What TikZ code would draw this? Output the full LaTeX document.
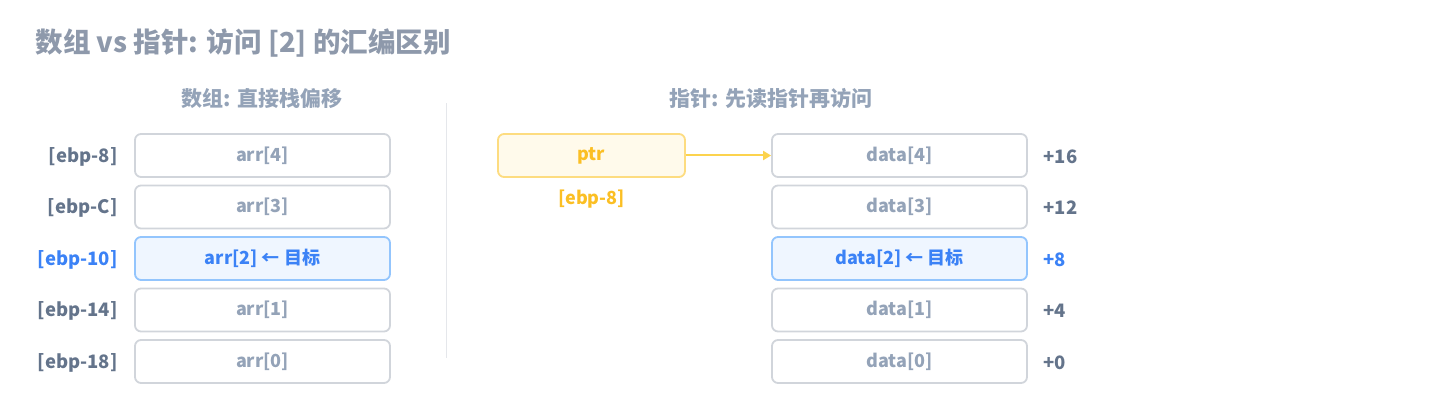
\documentclass[tikz,border=0pt]{standalone}
\usepackage{fontspec}
\setmainfont{Noto Sans CJK SC}
\usetikzlibrary{arrows.meta}

\definecolor{titlegray}{HTML}{8E99AB}
\definecolor{slate}{HTML}{94A3B8}
\definecolor{slatedark}{HTML}{64748B}
\definecolor{cellline}{HTML}{D1D5DB}
\definecolor{hiblue}{HTML}{3B82F6}
\definecolor{hiline}{HTML}{93C5FD}
\definecolor{hifill}{HTML}{EFF6FF}
\definecolor{amber}{HTML}{FBBF24}
\definecolor{amberline}{HTML}{FDDC80}
\definecolor{amberarrow}{HTML}{FCD34D}
\definecolor{amberfill}{HTML}{FFFAEB}
\definecolor{divider}{HTML}{E5E7EB}

\tikzset{
  cell/.style={draw=cellline,line width=1.8pt,rounded corners=6pt,fill=white,
    minimum width=255pt,minimum height=43pt,text=slate,font=\bfseries\fontsize{18}{18}\selectfont},
  hicell/.style={cell,draw=hiline,fill=hifill,text=hiblue},
  addr/.style={anchor=east,text=slatedark,font=\bfseries\fontsize{18.5}{18.5}\selectfont},
  hiaddr/.style={addr,text=hiblue},
  offs/.style={addr,anchor=west},
  hioffs/.style={offs,text=hiblue},
  ptrbox/.style={cell,draw=amberline,fill=amberfill,text=amber,minimum width=187pt},
  subtitle/.style={text=slate,font=\bfseries\fontsize{21}{21}\selectfont}
}

\begin{document}
\begin{tikzpicture}[x=1pt,y=-1pt]
  \useasboundingbox (0,0) rectangle (1440,411);
  \node[anchor=west,text=titlegray,font=\bfseries\fontsize{27.5}{27.5}\selectfont] (title) at (32,43) {数组 vs 指针: 访问 [2] 的汇编区别};
  \node[subtitle] (arrhead) at (262,99) {数组: 直接栈偏移};
  \node[subtitle] (ptrhead) at (771,99) {指针: 先读指针再访问};
  \draw[divider,line width=1pt] (446,103) -- (446,358);

  % array on the stack
  \foreach \i/\a/\cs/\as/\txt in {4/8/cell/addr/{arr[4]},3/C/cell/addr/{arr[3]},
      2/10/hicell/hiaddr/{arr[2] ← 目标},1/14/cell/addr/{arr[1]},0/18/cell/addr/{arr[0]}}{
    \node[\cs] (arr\i) at (262.5,{155.5+51.5*(4-\i)}) {\txt};
    \node[\as] (arrlbl\i) at (121,{156.5+51.5*(4-\i)}) {[ebp-\a]};
  }

  % pointer to the data
  \node[ptrbox] (ptr) at (591.5,155.5) {ptr};
  \node[text=amber,font=\bfseries\fontsize{18}{18}\selectfont] (ptrlbl) at (591.5,199) {[ebp-8]};
  \foreach \i/\o/\cs/\os/\txt in {4/16/cell/offs/{data[4]},3/12/cell/offs/{data[3]},
      2/8/hicell/hioffs/{data[2] ← 目标},1/4/cell/offs/{data[1]},0/0/cell/offs/{data[0]}}{
    \node[\cs] (data\i) at (899.5,{155.5+51.5*(4-\i)}) {\txt};
    \node[\os] (off\i) at (1040,{156.5+51.5*(4-\i)}) {+\o};
  }
  \draw[amberarrow,line width=2pt,-{Triangle[length=8pt,width=9pt]}] (ptr.east) -- (data4.west);
\end{tikzpicture}
\end{document}
